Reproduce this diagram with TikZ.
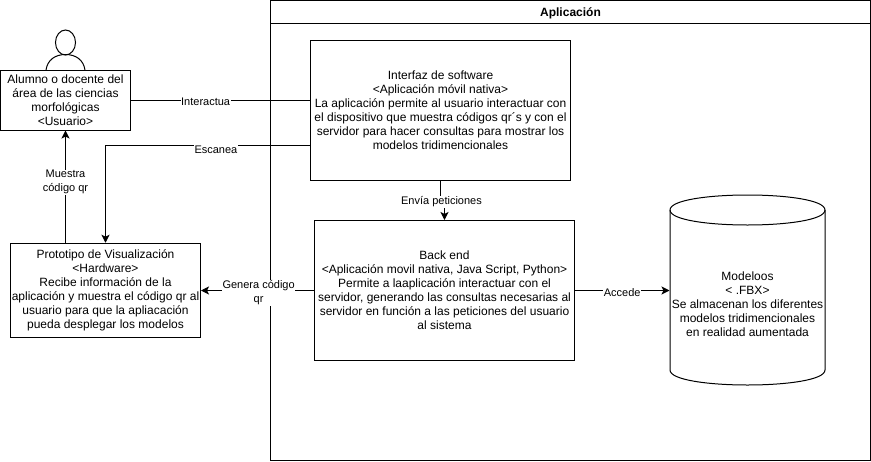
\documentclass[tikz,border=0pt]{standalone}
\usepackage{fontspec}
\setmainfont{Liberation Sans}
\usetikzlibrary{arrows.meta}
\tikzset{
  box/.style={draw,line width=1pt,align=center,font=\fontsize{12}{14}\selectfont,inner sep=0pt},
  edgelabel/.style={fill=white,align=center,font=\fontsize{11}{14}\selectfont,inner sep=0.5pt},
  link/.style={line width=1pt},
  arrow/.style={line width=1pt,-{Stealth[length=8pt,width=8pt,inset=2pt]}}
}
\begin{document}
\begin{tikzpicture}[x=1pt,y=-1pt]
      \useasboundingbox (0,0) rectangle (871,461);
      % application frame
      \node[box,minimum width=600pt,minimum height=460pt] (aplicacion) at (570.5,230.5) {};
      \draw[link] (aplicacion.west |- 0,23) -- (aplicacion.east |- 0,23);
      \node[font=\fontsize{12}{14}\selectfont\bfseries] (titulo) at (570.5,13.5) {Aplicación};
      % actor
      \draw[link] (65.5,42.5) ellipse (10 and 12.5);
      \draw[link] (46,70) .. controls (47.5,60) and (55,54.5) .. (65.5,54.5)
        .. controls (76,54.5) and (83.5,60) .. (85,70);
      \begin{scope}
        \node[box,fill=white,minimum width=130pt,minimum height=60pt] (usuario) at (65.5,100)
          {Alumno o docente del\\área de las ciencias\\morfológicas\\\textless Usuario\textgreater};
        \node[box,minimum width=190pt,minimum height=94.5pt] (prototipo) at (105.5,290.5)
          {Prototipo de Visualización\\\textless Hardware\textgreater\\Recibe información de la\\aplicación y muestra el código qr al\\usuario para que la apliacación\\pueda desplegar los modelos};
        \node[box,minimum width=260pt,minimum height=140pt] (interfaz) at (440.5,110.5)
          {Interfaz de software\\\textless Aplicación móvil nativa\textgreater\\La aplicación permite al usuario interactuar con\\el dispositivo que muestra códigos qr´s y con el\\servidor para hacer consultas para mostrar los\\modelos tridimencionales};
        \node[box,minimum width=260pt,minimum height=140pt] (backend) at (444.5,290.5)
          {Back end\\\textless Aplicación movil nativa, Java Script, Python\textgreater\\Permite a laaplicación interactuar con el\\servidor, generando las consultas necesarias al\\servidor en función a las peticiones del usuario\\al sistema};
        \node[box,draw=none,minimum width=155pt,minimum height=160pt] (modelos) at (747.5,304)
          {Modeloos\\\textless{} .FBX\textgreater\\Se almacenan los diferentes\\modelos tridimencionales\\en realidad aumentada};
      \end{scope}
      % cylinder
      \draw[link] (670,210) .. controls (670,190) and (825,190) .. (825,210)
        -- (825,370) .. controls (825,390) and (670,390) .. (670,370) -- cycle;
      \draw[link] (670,210) .. controls (670,230) and (825,230) .. (825,210);
      % connectors
      \draw[link] (usuario.east) -- (usuario.east -| interfaz.west)
        node[edgelabel,pos=0.417,yshift=-2pt] (interactua) {Interactua};
      \draw[arrow] ([yshift=-35pt]interfaz.west) -| (prototipo.north)
        node[edgelabel,pos=0.23,yshift=-4pt] (escanea) {Escanea};
      \draw[arrow] (prototipo.north -| usuario.south) -- (usuario.south)
        node[edgelabel,pos=0.54] (muestra) {Muestra\\código qr};
      \coordinate (codo) at (442.5,200);
      \draw[arrow] (interfaz.south) |- (codo) -| (backend.north);
      \node[edgelabel] (envia) at (codo) [xshift=-1pt,yshift=-2pt] {Envía peticiones};
      \draw[arrow] (backend.west) -- (prototipo.east)
        node[edgelabel,pos=0.49,yshift=-2.5pt] (genera) {Genera código\\qr};
      \draw[arrow] (backend.east) -- (backend.east -| modelos.west)
        node[edgelabel,pos=0.5,yshift=-2.5pt] (accede) {Accede};
    \end{tikzpicture}
\end{document}
